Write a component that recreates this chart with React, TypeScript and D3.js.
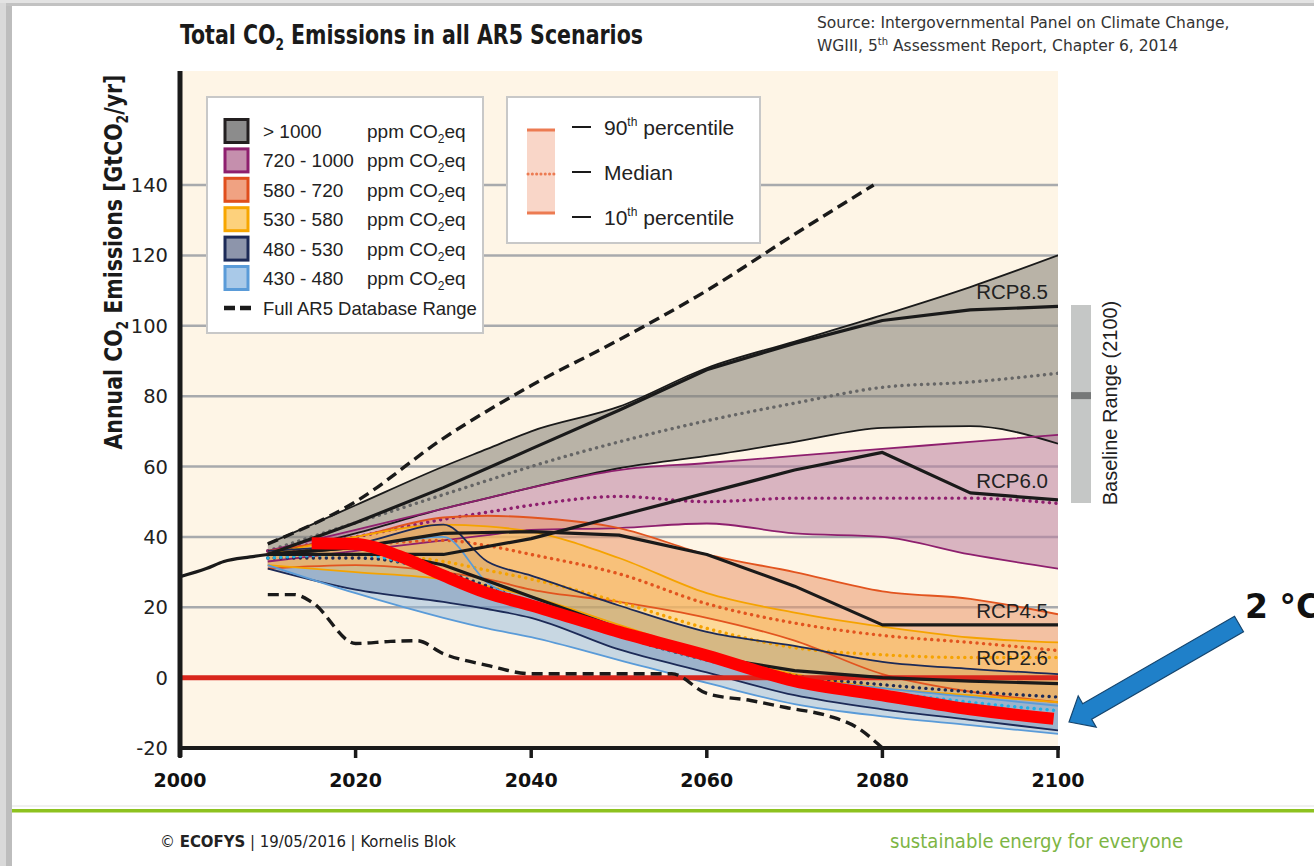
import React from "react";
import * as d3 from "d3";

// ---------- data ----------
const xTickYears = [2000, 2020, 2040, 2060, 2080, 2100];
const yTickValues = [-20, 0, 20, 40, 60, 80, 100, 120, 140];
const gridValues = [20, 40, 60, 80, 100, 120, 140];

const bandYears = [2010, 2020, 2030, 2035, 2040, 2050, 2060, 2070, 2080, 2090, 2100];

const gt1000Upper = [38, 49, 60, 65, 70, 77, 88, 95.5, 103, 111, 120];
const gt1000Median = [36, 44, 52, 56, 60, 67, 73, 78, 82.5, 84, 86.5];
const gt1000Lower = [35, 41, 48, 51, 54, 59.5, 63, 67, 71, 71.5, 66.5];

const p720Upper = [36, 42, 48, 51, 54, 59, 61, 63, 65, 67, 69];
const p720Median = [36, 40, 45, 47, 49, 51.5, 50, 51, 51, 51, 49.5];
const p720Lower = [33, 36, 39, 40.5, 42, 42.5, 43.8, 41, 40, 35, 31];

const p580Upper = [36, 40, 45.5, 46, 45.5, 42.5, 35, 30, 24.5, 22.4, 18];
const p580Median = [35, 37.5, 39, 37.5, 35, 29.5, 21, 15.5, 12, 10, 7.7];
const p580Lower = [31, 32, 30, 28, 25, 21.5, 17, 10.5, 1, -4, -7];

const p530Upper = [35, 40, 43.5, 43, 41.5, 34, 24, 18.5, 14.5, 11.4, 10];
const p530Median = [34, 35, 33, 30.5, 28, 21.5, 14, 8.5, 6.5, 5.7, 5.7];
const p530Lower = [32, 30, 28, 26, 23, 15, 7, 1, -3, -5, -7];

const p480Upper = [36, 38, 43.5, 33, 29, 20.5, 13, 9, 4.5, 2.5, 1];
const p480Median = [34, 34, 30, 26, 21, 12, 5, 0.5, -2, -4, -5.5];
const p480Lower = [31, 25, 21.5, 19.5, 17, 8, 1.5, -5, -9, -12, -15];

const p430Upper = [35, 37, 40, 27, 21, 13.5, 5.7, 0, -3, -5.5, -8];
const p430Median = [34, 35, 29, 24.5, 20, 12, 5, -0.5, -4, -7, -9.4];
const p430Lower = [32, 24, 17, 14, 11.5, 5, -1.5, -7.5, -11, -13.5, -16];

const rcpYears = [2010, 2020, 2030, 2040, 2050, 2060, 2070, 2080, 2090, 2100];
const rcp85 = [35, 44, 54, 65, 76, 87.5, 95, 101.5, 104.5, 105.5];
const rcp60 = [35, 35, 35, 39.5, 46, 52.5, 59, 64, 52.5, 50.5];
const rcp45 = [35, 37, 41, 41.5, 40.5, 35, 26, 15, 15, 15];
const rcp26 = [35, 37, 32, 23, 14, 6, 2, 0, -1, -1.7];

const histYears = [2000, 2003, 2005, 2008, 2010];
const histValues = [28.7, 31, 33, 34.3, 35];

const dbUpperYears = [2010, 2020, 2030, 2040, 2050, 2060, 2070, 2079];
const dbUpperValues = [38, 50, 68, 83, 96, 110, 126, 140];
const dbLowerYears = [2010, 2013, 2015, 2020, 2024, 2027, 2030, 2035, 2040, 2050, 2056, 2060, 2065, 2069, 2074, 2077, 2080];
const dbLowerValues = [23.6, 23.6, 21.5, 9.7, 10.3, 10.5, 6.8, 3.5, 1.1, 1.1, 1.1, -4.5, -6.5, -8.5, -11, -14, -20];

const twoDegYears = [2015, 2020, 2025, 2030, 2035, 2040, 2050, 2060, 2070, 2080, 2090, 2099.5];
const twoDegValues = [38.2, 38, 34.5, 29, 24, 20.5, 13, 6.3, -1, -5, -9, -11.7];

const legendLabels = ["> 1000", "720 - 1000", "580 - 720", "530 - 580", "480 - 530", "430 - 480"];
const legendFills = ["#8c8c8c", "#c58fad", "#f0a282", "#fdd17c", "#8d95ab", "#a9c9e8"];
const legendStrokes = ["#231f20", "#8e1f6e", "#e04e1c", "#f7a600", "#1c2a57", "#5a9bd8"];

const bandFills = ["#7f7c72", "#b97da1", "#ea956a", "#fbc15a", "#4e5f86", "#92b9de"];
const bandOpacity = [0.55, 0.55, 0.55, 0.55, 0.48, 0.5];
const bandLines = ["#1a1a1a", "#8e1f6e", "#e2541f", "#f5a300", "#1c2a57", "#5a9bd8"];
const bandMedianColors = ["#666666", "#8e1f6e", "#e2541f", "#f5a300", "#1c2a57", "#22aee6"];
const fillOrder = [0, 1, 4, 5, 2, 3];

const rcpLabels = ["RCP8.5", "RCP6.0", "RCP4.5", "RCP2.6"];
const rcpLabelValues = [107.5, 54, 17, 3.5];

// ---------- layout ----------
const W = 1314;
const H = 866;
const PL = 180, PR = 1058, PT = 71, PB = 748;

const NARROW = "'Liberation Sans Narrow', 'DejaVu Sans Condensed', sans-serif";
const SANS = "'Liberation Sans', Arial, sans-serif";
const VERD = "'DejaVu Sans', Verdana, sans-serif";

const x = d3.scaleLinear().domain([2000, 2100]).range([PL, PR]);
const y = d3.scaleLinear().domain([-20, 140]).range([PB, 185]);

const lineOf = (xs: number[], vs: number[], curve: any) =>
  d3.line<number>().x((_, i) => x(xs[i])).y((v) => y(v)).curve(curve)(vs) || "";

const areaOf = (xs: number[], lo: number[], hi: number[]) =>
  d3
    .area<number>()
    .x((_, i) => x(xs[i]))
    .y0((_, i) => y(lo[i]))
    .y1((_, i) => y(hi[i]))
    .curve(d3.curveMonotoneX)(xs.map((_, i) => i)) || "";

const bands = [
  { up: gt1000Upper, med: gt1000Median, lo: gt1000Lower },
  { up: p720Upper, med: p720Median, lo: p720Lower },
  { up: p580Upper, med: p580Median, lo: p580Lower },
  { up: p530Upper, med: p530Median, lo: p530Lower },
  { up: p480Upper, med: p480Median, lo: p480Lower },
  { up: p430Upper, med: p430Median, lo: p430Lower },
];

export default function App() {
  const mono = d3.curveMonotoneX;
  const lin = d3.curveLinear;

  // arrow geometry
  const tip = [1069, 722];
  const tail = [1239, 624];
  const dx = tail[0] - tip[0], dy = tail[1] - tip[1];
  const L = Math.hypot(dx, dy);
  const u = [dx / L, dy / L];
  const n = [-u[1], u[0]];
  const hl = 21, hw = 18, sw = 9;
  const P = (a: number, b: number) => `${tip[0] + u[0] * a + n[0] * b},${tip[1] + u[1] * a + n[1] * b}`;
  const arrowPts = [P(0, 0), P(hl, hw), P(hl, sw), P(L, sw), P(L, -sw), P(hl, -sw), P(hl, -hw)].join(" ");

  return (
    <svg width={W} height={H} style={{ position: "absolute", left: 0, top: 0 }} xmlns="http://www.w3.org/2000/svg">
      <defs>
        <clipPath id="plotClip">
          <rect x={PL} y={PT} width={PR - PL} height={PB - PT} />
        </clipPath>
      </defs>
      {/* slide frame */}
      <rect x={0} y={0} width={W} height={H} fill="#ffffff" />
      <rect x={0} y={0} width={6} height={H} fill="#d9d9d9" />
      <rect x={6} y={0} width={6} height={H} fill="#bdbdbd" />
      <rect x={0} y={0} width={W} height={3} fill="#e3e3e3" />
      <rect x={6} y={3} width={W} height={3} fill="#c2c2c2" />

      {/* title */}
      <text x={180} y={44} fontFamily={NARROW} fontWeight="bold" fontSize={27} fill="#1a1a1a" textLength={463} lengthAdjust="spacingAndGlyphs">
        Total CO<tspan fontSize={16} dy={6}>2</tspan><tspan dy={-6}> Emissions in all AR5 Scenarios</tspan>
      </text>
      <text x={817} y={28} fontFamily={VERD} fontSize={15.5} fill="#333">
        Source: Intergovernmental Panel on Climate Change,
      </text>
      <text x={817} y={51} fontFamily={VERD} fontSize={15.5} fill="#333">
        WGIII, 5<tspan fontSize={10} dy={-6}>th</tspan><tspan dy={6}> Assessment Report, Chapter 6, 2014</tspan>
      </text>

      {/* plot background */}
      <rect x={PL} y={PT} width={PR - PL} height={PB - PT} fill="#fef5e6" />
      {gridValues.map((v) => (
        <line key={v} x1={PL} x2={PR} y1={y(v)} y2={y(v)} stroke="#a8aaad" strokeWidth={2.5} />
      ))}

      <g clipPath="url(#plotClip)">
        {fillOrder.map((i) => (
          <path key={"a" + i} d={areaOf(bandYears, bands[i].lo, bands[i].up)} fill={bandFills[i]} fillOpacity={bandOpacity[i]} />
        ))}
        {bands.map((b, i) => (
          <g key={"l" + i} fill="none">
            <path d={lineOf(bandYears, b.up, mono)} stroke={bandLines[i]} strokeWidth={1.8} />
            <path d={lineOf(bandYears, b.lo, mono)} stroke={bandLines[i]} strokeWidth={1.8} />
            <path d={lineOf(bandYears, b.med, mono)} stroke={bandMedianColors[i]} strokeWidth={3.4} strokeDasharray="0.1 6.4" strokeLinecap="round" />
          </g>
        ))}
        <line x1={PL} x2={PR} y1={y(0)} y2={y(0)} stroke="#d9261c" strokeWidth={5} />
        {[rcp85, rcp60, rcp45, rcp26].map((r, i) => (
          <path key={"r" + i} d={lineOf(rcpYears, r, lin)} fill="none" stroke="#1a1a1a" strokeWidth={3.2} strokeLinejoin="round" />
        ))}
        <path d={lineOf(histYears, histValues, mono)} fill="none" stroke="#1a1a1a" strokeWidth={3.2} />
        <path d={lineOf(dbUpperYears, dbUpperValues, mono)} fill="none" stroke="#1a1a1a" strokeWidth={3.4} strokeDasharray="11 6" />
        <path d={lineOf(dbLowerYears, dbLowerValues, mono)} fill="none" stroke="#1a1a1a" strokeWidth={3.4} strokeDasharray="11 6" />
        <path d={lineOf(twoDegYears, twoDegValues, mono)} fill="none" stroke="#ff0000" strokeWidth={12} />
      </g>

      {/* RCP labels */}
      {rcpLabels.map((t, i) => (
        <text key={t} x={1048} y={y(rcpLabelValues[i])} textAnchor="end" fontFamily={SANS} fontSize={20.5} fill="#222">
          {t}
        </text>
      ))}

      {/* axes */}
      <line x1={PL} x2={PL} y1={PT} y2={PB + 9} stroke="#1a1a1a" strokeWidth={5} />
      <line x1={PL - 2} x2={PR + 2} y1={PB} y2={PB} stroke="#1a1a1a" strokeWidth={4} />
      {xTickYears.map((t) => (
        <g key={t}>
          <line x1={x(t)} x2={x(t)} y1={PB} y2={PB + 10} stroke="#1a1a1a" strokeWidth={3.5} />
          <text x={x(t)} y={787} textAnchor="middle" fontFamily={VERD} fontWeight="bold" fontSize={19} fill="#111">
            {t}
          </text>
        </g>
      ))}
      {yTickValues.map((v) => (
        <text key={v} x={168} y={y(v) + 7} textAnchor="end" fontFamily={VERD} fontSize={19.5} fill="#222">
          {v}
        </text>
      ))}
      <text transform="translate(122,262) rotate(-90)" textAnchor="middle" fontFamily={NARROW} fontWeight="bold" fontSize={25} fill="#1a1a1a" textLength={375} lengthAdjust="spacingAndGlyphs">
        Annual CO<tspan fontSize={15} dy={6}>2</tspan><tspan dy={-6}> Emissions [GtCO</tspan><tspan fontSize={15} dy={6}>2</tspan><tspan dy={-6}>/yr]</tspan>
      </text>

      {/* legend 1 */}
      <rect x={207} y={97} width={276} height={236} fill="#fff" stroke="#c8c8c8" strokeWidth={2} />
      {legendLabels.map((lab, i) => {
        const cy = 131 + i * 29.4;
        return (
          <g key={lab}>
            <rect x={225} y={cy - 11.5} width={23} height={23} fill={legendFills[i]} stroke={legendStrokes[i]} strokeWidth={3} />
            <text x={263} y={cy + 7} fontFamily={SANS} fontSize={19} fill="#222">{lab}</text>
            <text x={367} y={cy + 7} fontFamily={SANS} fontSize={19} fill="#222">
              ppm CO<tspan fontSize={12} dy={5}>2</tspan><tspan dy={-5}>eq</tspan>
            </text>
          </g>
        );
      })}
      <line x1={224} x2={251} y1={308} y2={308} stroke="#1a1a1a" strokeWidth={4.5} strokeDasharray="11 5" />
      <text x={263} y={315} fontFamily={SANS} fontSize={18.5} fill="#222">Full AR5 Database Range</text>

      {/* legend 2 */}
      <rect x={507} y={97} width={253} height={146} fill="#fff" stroke="#c8c8c8" strokeWidth={2} />
      <rect x={527} y={130} width={28} height={83} fill="#f9d6c8" />
      <line x1={527} x2={555} y1={130} y2={130} stroke="#ec7b52" strokeWidth={3} />
      <line x1={527} x2={555} y1={213} y2={213} stroke="#ec7b52" strokeWidth={3} />
      <line x1={528} x2={555} y1={174} y2={174} stroke="#ec7b52" strokeWidth={3} strokeDasharray="0.1 4.2" strokeLinecap="round" />
      {["90", "Median", "10"].map((t, i) => {
        const cy = 127 + i * 45;
        return (
          <g key={t}>
            <line x1={572} x2={591} y1={cy} y2={cy} stroke="#1a1a1a" strokeWidth={2} />
            {i !== 1 ? (
              <text x={604} y={cy + 8} fontFamily={SANS} fontSize={21} fill="#222">
                {t}<tspan fontSize={12} dy={-9}>th</tspan><tspan dy={9}> percentile</tspan>
              </text>
            ) : (
              <text x={604} y={cy + 8} fontFamily={SANS} fontSize={21} fill="#222">{t}</text>
            )}
          </g>
        );
      })}

      {/* baseline range */}
      <rect x={1071} y={305} width={20} height={198} fill="#c5c7c6" />
      <rect x={1071} y={y(80) - 4} width={20} height={7} fill="#767878" />
      <text transform="translate(1117,403) rotate(-90)" textAnchor="middle" fontFamily={SANS} fontSize={20} fill="#222">
        Baseline Range (2100)
      </text>

      {/* 2 degC arrow */}
      <polygon points={arrowPts} fill="#1f80c9" stroke="#15456e" strokeWidth={1.2} />
      <text x={1245} y={618} fontFamily={VERD} fontWeight="bold" fontSize={33} fill="#111">2 °C</text>

      {/* footer */}
      <line x1={12} x2={W} y1={806} y2={806} stroke="#e2e2e2" strokeWidth={1} />
      <rect x={12} y={809} width={W - 12} height={3.5} fill="#8dc21f" />
      <text x={160} y={847} fontFamily={NARROW} fontSize={15} fill="#222" textLength={296} lengthAdjust="spacingAndGlyphs">
        © <tspan fontWeight="bold">ECOFYS</tspan> | 19/05/2016 | Kornelis Blok
      </text>
      <text x={890} y={848} fontFamily={NARROW} fontSize={19} fill="#7db544" textLength={293} lengthAdjust="spacingAndGlyphs">
        sustainable energy for everyone
      </text>
    </svg>
  );
}
